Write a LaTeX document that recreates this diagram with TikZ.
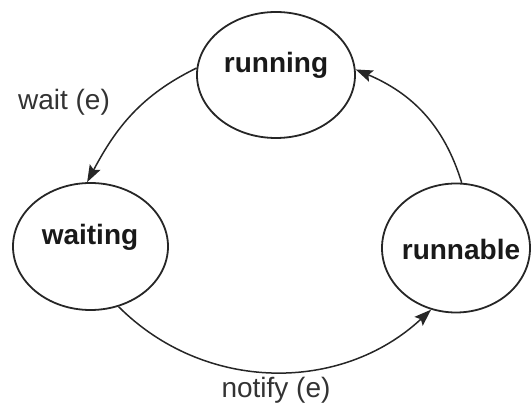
\documentclass[tikz,border=0pt]{standalone}
\usepackage{fontspec}
\setmainfont{Liberation Sans}
\usetikzlibrary{arrows.meta, shapes.geometric, positioning}
\tikzset{>={Stealth[length=17pt,width=12pt,inset=3pt]}}
\tikzset{state/.style={ellipse, draw=black!85, line width=1.8pt, inner sep=0pt},
  statename/.style={anchor=base, font=\fontsize{28}{34}\selectfont\bfseries, text=black!90},
  event/.style={anchor=base, font=\fontsize{28}{34}\selectfont, text=black!80},
  trans/.style={->, line width=1.5pt, draw=black!85}}

\begin{document}
\begin{tikzpicture}[x=1pt,y=1pt]
        \useasboundingbox (0,0) rectangle (531,412);
        % states
        \node[state, minimum width=158pt, minimum height=126pt] (running) at (276,337) {};
        \node[state, minimum width=155pt, minimum height=127pt] (waiting) at (90.5,165.5) {};
        \node[state, minimum width=148pt, minimum height=129pt] (runnable) at (456,164) {};
        \node[statename] (runningtxt) at (276,339) {running};
        \node[statename] (waitingtxt) at (90,167) {waiting};
        \node[statename] (runnabletxt) at (461,152) {runnable};
        % transitions
        \draw[trans] (running.175) to[out=206,in=62] (waiting.93);
        \draw[trans] (waiting.295) to[out=-45,in=223] (runnable.248);
        \draw[trans] (runnable.85) to[out=107,in=337] (running.4);
        \node[event] (waitlbl) at (64,302) {wait (e)};
        \node[event] (notifylbl) at (276,14) {notify (e)};
\end{tikzpicture}
\end{document}
